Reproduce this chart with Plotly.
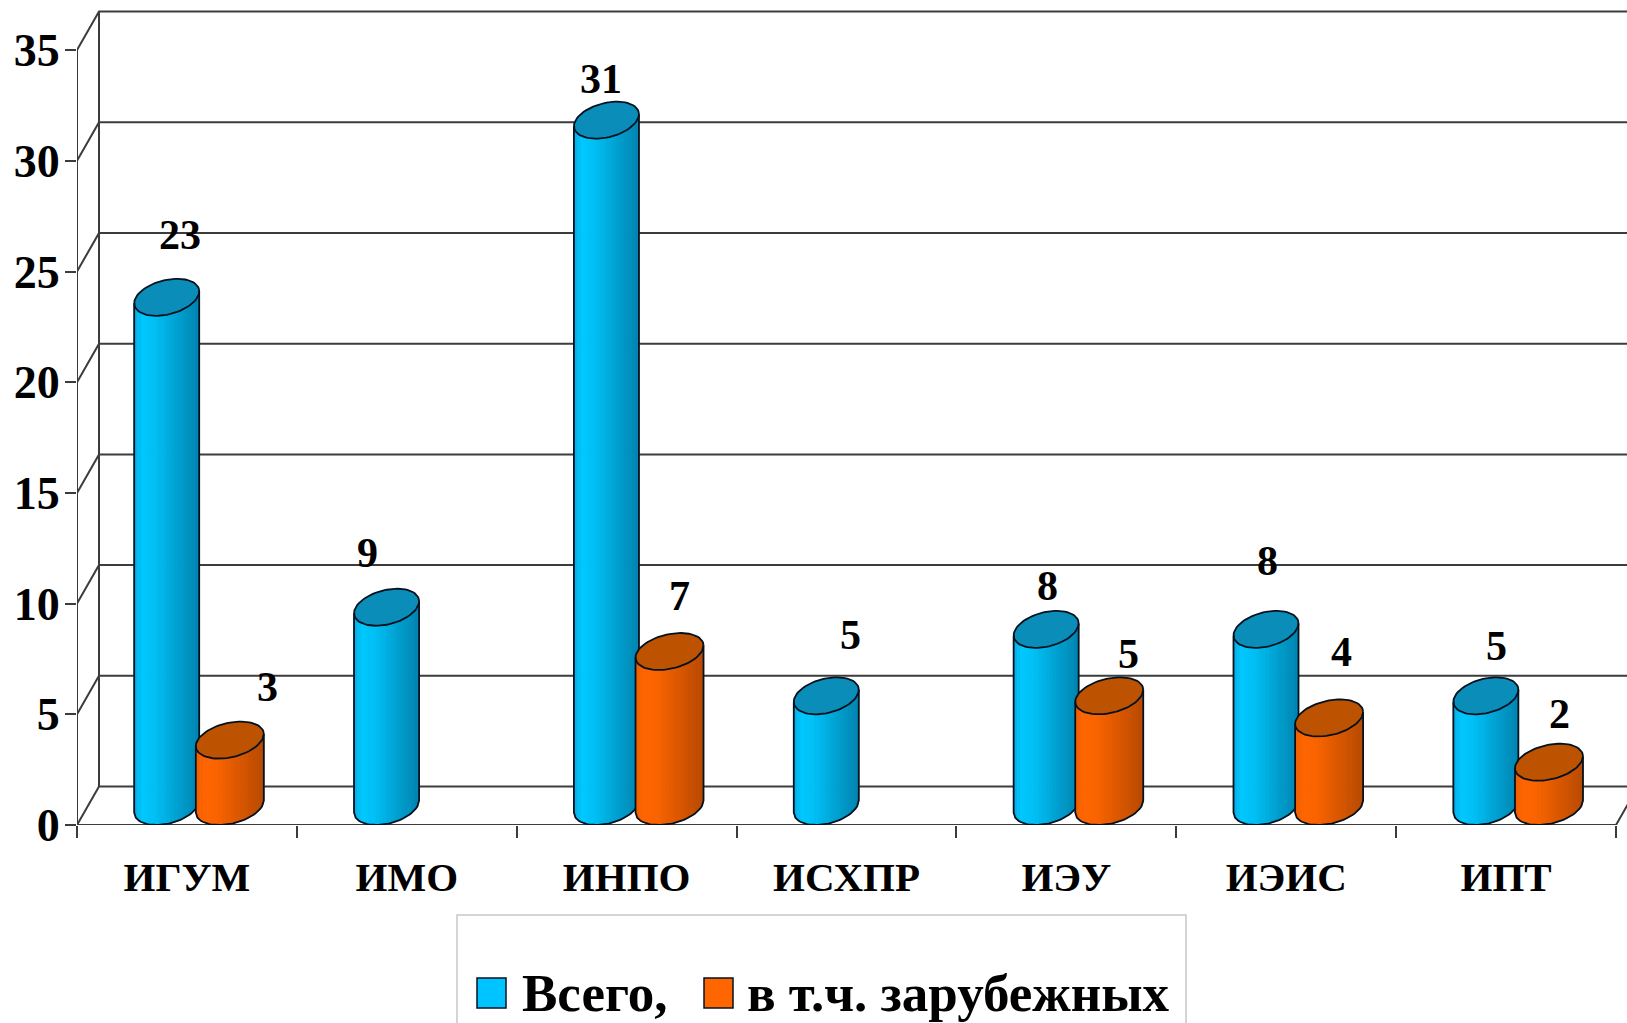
import numpy as np
import plotly.graph_objects as go

categories = ["ИГУМ", "ИМО", "ИНПО", "ИСХПР", "ИЭУ", "ИЭИС", "ИПТ"]
total_values = [23, 9, 31, 5, 8, 8, 5]
foreign_values = [3, None, 7, None, 5, 4, 2]
series_names = ["Всего,", "в т.ч. зарубежных"]
y_ticks = [0, 5, 10, 15, 20, 25, 30, 35]

# label offsets from the front of each cylinder, in pixels
total_label_dx = [14, -18, -4, 25, 2, 2, 12]
total_label_dy = [81, 73, 60, 79, 62, 87, 68]
foreign_label_dx = [39, 0, 11, 0, 20, 13, 12]
foreign_label_dy = [72, 0, 74, 0, 60, 84, 67]

PX_X, PX_Y = 219.86, 22.14
W, H = 1627, 1023
ML, MT, MB = 77, 10, 198
DX, DY = 22 / PX_X, 38.5 / PX_Y
FONT = "Liberation Serif"
LINE = "#3c3c3c"
OUT = "#04121f"

A_TOTAL = 32.5 / PX_X
A_FOREIGN = 34 / PX_X
C_TOTAL, C_FOREIGN = 0.408, 0.695
CAP_H = 18.5 / PX_Y
SHEAR = 6 / PX_Y
B = 17.5 / PX_Y
N_BANDS = 18

BLUE = [(0.0, (10, 170, 225)), (0.12, (0, 200, 255)), (0.32, (0, 192, 245)), (1.0, (0, 132, 176))]
ORANGE = [(0.0, (238, 95, 0)), (0.12, (255, 102, 0)), (0.32, (250, 100, 0)), (1.0, (184, 74, 0))]
CAP_BLUE, CAP_ORANGE = "#0a8db8", "#bd5200"


def ramp(stops, t):
    ts = [s[0] for s in stops]
    return "rgb(%d,%d,%d)" % tuple(np.interp(t, ts, [s[1][k] for s in stops]) for k in range(3))


def lower_arc(cx, a, base, us):
    return cx + a * us, base + SHEAR * us - B * np.sqrt(np.clip(1 - us ** 2, 0, 1))


def add_series(fig, values, center, a, stops, cap, name):
    items = [(i + center, v) for i, v in enumerate(values) if v is not None]
    edges = np.linspace(-1, 1, N_BANDS + 1)
    for b in range(N_BANDS):
        xs, ys = [], []
        for cx, v in items:
            us = np.linspace(edges[b], edges[b + 1], 5)
            lx, ly = lower_arc(cx, a, CAP_H, us)
            tx = cx + a * us[::-1]
            ty = v + CAP_H + SHEAR * us[::-1]
            xs += list(lx) + list(tx) + [lx[0], None]
            ys += list(ly) + list(ty) + [ly[0], None]
        col = ramp(stops, (b + 0.5) / N_BANDS)
        fig.add_trace(go.Scatter(x=xs, y=ys, mode="lines", fill="toself", fillcolor=col,
                                 line=dict(color=col, width=1), hoverinfo="skip",
                                 showlegend=False, name=name))
    # caps and outlines
    t = np.linspace(0, 2 * np.pi, 73)
    cx_all, cy_all, ox, oy = [], [], [], []
    for cx, v in items:
        cy = v + CAP_H
        ex = cx + a * np.cos(t)
        ey = cy + SHEAR * np.cos(t) + B * np.sin(t)
        cx_all += list(ex) + [None]
        cy_all += list(ey) + [None]
        us = np.linspace(-1, 1, 41)
        lx, ly = lower_arc(cx, a, CAP_H, us)
        ox += [cx - a] + list(lx) + [cx + a, None]
        oy += [cy - SHEAR] + list(ly) + [cy + SHEAR, None]
    fig.add_trace(go.Scatter(x=cx_all, y=cy_all, mode="lines", fill="toself", fillcolor=cap,
                             line=dict(color=OUT, width=1.8), hoverinfo="skip", showlegend=False))
    fig.add_trace(go.Scatter(x=ox, y=oy, mode="lines", line=dict(color=OUT, width=1.8),
                             hoverinfo="skip", showlegend=False))


fig = go.Figure()

# walls of the chart box
fx, fy = [], []
for v in y_ticks:
    fx += [0, DX, 7 + DX, None]
    fy += [v, v + DY, v + DY, None]
fx += [0, 0, None, DX, DX, None, 0, 7, 7 + DX, None]
fy += [0, 35, None, DY, 35 + DY, None, 0, 0, DY, None]
fig.add_trace(go.Scatter(x=fx, y=fy, mode="lines", line=dict(color=LINE, width=2),
                         cliponaxis=False, hoverinfo="skip", showlegend=False))

add_series(fig, total_values, C_TOTAL, A_TOTAL, BLUE, CAP_BLUE, series_names[0])
add_series(fig, foreign_values, C_FOREIGN, A_FOREIGN, ORANGE, CAP_ORANGE, series_names[1])

annotations = []
for values, center, dxs, dys in ((total_values, C_TOTAL, total_label_dx, total_label_dy),
                                 (foreign_values, C_FOREIGN, foreign_label_dx, foreign_label_dy)):
    for i, v in enumerate(values):
        if v is None:
            continue
        annotations.append(dict(x=i + center, y=v, xref="x", yref="y", text=str(v), showarrow=False,
                                xshift=dxs[i] - 1, yshift=dys[i], xanchor="center", yanchor="middle",
                                font=dict(family=FONT, size=42, color="#000000", weight=700)))

PLOT_W, PLOT_H = W - ML, H - MT - MB


def paper_x(x):
    return (x - ML) / PLOT_W


def paper_y(y):
    return (H - MB - y) / PLOT_H


shapes = [
    dict(type="rect", xref="paper", yref="paper", x0=paper_x(457), x1=paper_x(1186),
         y0=paper_y(1060), y1=paper_y(915), line=dict(color="#c8c8c8", width=1.5), fillcolor="#ffffff"),
    dict(type="rect", xref="paper", yref="paper", x0=paper_x(477), x1=paper_x(506),
         y0=paper_y(1008), y1=paper_y(978), line=dict(color=OUT, width=1.5), fillcolor="#00c4ff"),
    dict(type="rect", xref="paper", yref="paper", x0=paper_x(704), x1=paper_x(733),
         y0=paper_y(1008), y1=paper_y(978), line=dict(color=OUT, width=1.5), fillcolor="#ff6600"),
]
annotations += [
    dict(xref="paper", yref="paper", x=paper_x(520), y=paper_y(993), text=series_names[0], showarrow=False,
         xanchor="left", yanchor="middle", font=dict(family=FONT, size=53, color="#000000", weight=700)),
    dict(xref="paper", yref="paper", x=paper_x(745), y=paper_y(993), text=series_names[1], showarrow=False,
         xanchor="left", yanchor="middle", font=dict(family=FONT, size=53, color="#000000", weight=700)),
]

fig.update_layout(
    width=W, height=H, margin=dict(l=ML, r=0, t=MT, b=MB, pad=0, autoexpand=False),
    paper_bgcolor="#ffffff", plot_bgcolor="#ffffff", showlegend=False,
    shapes=shapes, annotations=annotations,
    xaxis=dict(range=[0, PLOT_W / PX_X], tickmode="array", tickvals=[i + 0.5 for i in range(7)],
               ticktext=categories, ticks="", showgrid=False, zeroline=False, showline=False,
               tickfont=dict(family=FONT, size=41, color="#000000", weight=700), ticklabelstandoff=24,
               minor=dict(tickmode="array", tickvals=list(range(8)), ticks="outside", ticklen=12,
                          tickwidth=2, tickcolor=LINE, showgrid=False)),
    yaxis=dict(range=[0, PLOT_H / PX_Y], tickmode="array", tickvals=y_ticks, ticks="outside", ticklen=11,
               tickwidth=2, tickcolor=LINE, showgrid=False, zeroline=False, showline=False,
               tickfont=dict(family=FONT, size=46, color="#000000", weight=700), ticklabelstandoff=-4),
)

fig.write_html("out.html", config={"displayModeBar": False},
               post_script="document.body.style.margin='0';document.body.style.overflow='hidden';")
